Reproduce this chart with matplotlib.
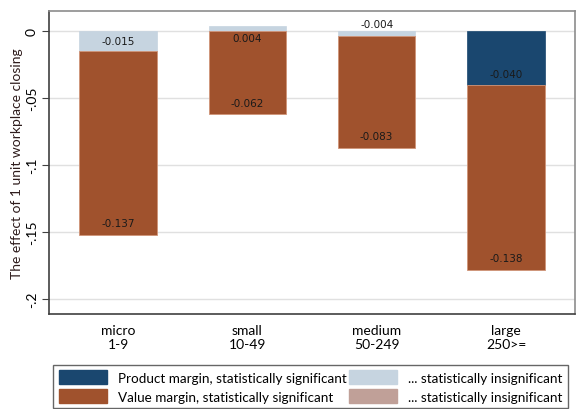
import numpy as np
import matplotlib
matplotlib.use("Agg")
import matplotlib.pyplot as plt
from matplotlib.patches import Patch

plt.rcParams['font.family'] = ['Lato', 'DejaVu Sans']

# Firm-size groups and decomposition of the closing effect
categories = ["micro\n1-9", "small\n10-49", "medium\n50-249", "large\n250>="]
product_margin = [-0.015, 0.004, -0.004, -0.040]
product_significant = [False, False, False, True]
value_margin = [-0.137, -0.062, -0.083, -0.138]
value_significant = [True, True, True, True]
yticks = [0, -0.05, -0.1, -0.15, -0.2]
ytick_labels = ["0", "-.05", "-.1", "-.15", "-.2"]

c_prod_sig = "#1a476f"
c_prod_ins = "#c6d4e0"
c_val_sig = "#a0522d"
c_val_ins = "#c0a098"

fig = plt.figure(figsize=(5.79, 4.10), dpi=100)
ax = fig.add_axes([0.0846, 0.2317, 0.9085, 0.739])

x = np.arange(len(categories))
width = 0.6

prod = np.array(product_margin)
val = np.array(value_margin)
# value margin stacks below the negative product margin (or from zero when positive)
val_base = np.minimum(prod, 0)

pcolors = [c_prod_sig if s else c_prod_ins for s in product_significant]
vcolors = [c_val_sig if s else c_val_ins for s in value_significant]

ax.bar(x, prod, width, color=pcolors, edgecolor=pcolors, linewidth=0.5, zorder=2)
ax.bar(x, val, width, bottom=val_base, color=vcolors, edgecolor="#d09478",
       linewidth=0.6, zorder=2)

lab_kw = dict(ha="center", va="center", fontsize=7.5, color="#1a1a1a",
              family=["DejaVu Sans"], zorder=3)
for xi, p in zip(x, prod):
    if abs(p) < 0.01:
        ly = -np.sign(p) * 0.0052
    else:
        ly = p - np.sign(p) * 0.0078
    ax.text(xi, ly, f"{p:.3f}", **lab_kw)
for xi, b, v in zip(x, val_base, val):
    ax.text(xi, b + v + 0.0085, f"{v:.3f}", **lab_kw)

ax.set_xlim(-0.534, 3.534)
ax.set_ylim(-0.2112, 0.0149)
ax.set_yticks(yticks)
ax.set_yticklabels(ytick_labels, rotation=90, va="center", fontsize=10)
ax.set_xticks(x)
ax.set_xticklabels(categories, fontsize=10, linespacing=1.2)
ax.tick_params(axis="x", length=0, pad=7)
ax.tick_params(axis="y", length=5, width=0.8, color="#404040", pad=3)
ax.yaxis.grid(True, color="#e0e0e0", linewidth=1.0, zorder=0)
ax.set_axisbelow(True)

for side in ["left", "bottom"]:
    ax.spines[side].set_color("#404040")
    ax.spines[side].set_linewidth(1.2)
for side in ["top", "right"]:
    ax.spines[side].set_color("#8c8c8c")
    ax.spines[side].set_linewidth(1.2)

ax.set_ylabel("The effect of 1 unit workplace closing", fontsize=10,
              color="#2e1c1c", labelpad=2)

handles = [
    Patch(facecolor=c_prod_sig, edgecolor=c_prod_sig),
    Patch(facecolor=c_val_sig, edgecolor=c_val_sig),
    Patch(facecolor=c_prod_ins, edgecolor=c_prod_ins),
    Patch(facecolor=c_val_ins, edgecolor=c_val_ins),
]
labels = [
    "Product margin, statistically significant",
    "Value margin, statistically significant",
    "... statistically insignificant",
    "... statistically insignificant",
]
leg = fig.legend(handles, labels, ncol=2, loc="lower left",
                 bbox_to_anchor=(0.092, 0.002), fontsize=9.7,
                 handlelength=3.6, handleheight=1.15, handletextpad=0.8,
                 columnspacing=0.15, labelspacing=0.42, borderpad=0.4,
                 frameon=True, fancybox=False, borderaxespad=0.0)
leg.get_frame().set_edgecolor("#404040")
leg.get_frame().set_linewidth(1.0)

fig.savefig("out.png", dpi=100)
